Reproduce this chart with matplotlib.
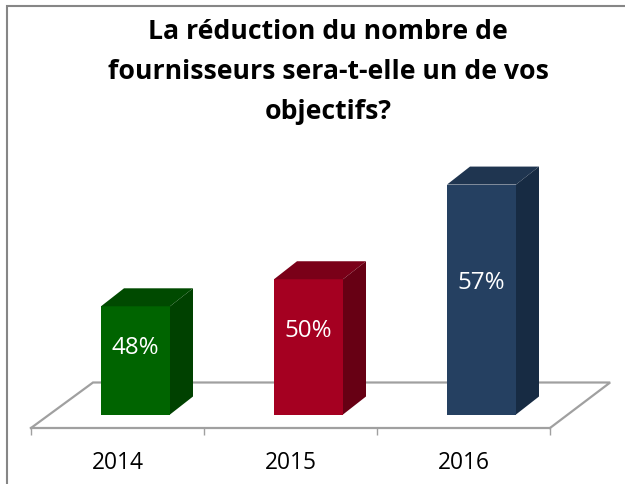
import matplotlib
matplotlib.use("Agg")
import matplotlib.pyplot as plt
from matplotlib.lines import Line2D
from matplotlib.patches import Polygon

years = ["2014", "2015", "2016"]
values = [48, 50, 57]
labels = ["48%", "50%", "57%"]
label_y = [45.0, 46.25, 49.8]
front = ["#006400", "#A50021", "#254061"]
top = ["#004A00", "#7A0018", "#1F3550"]
side = ["#004100", "#670014", "#172B43"]
title = "La réduction du nombre de\nfournisseurs sera-t-elle un de vos\nobjectifs?"

W, H = 625, 485
FONT = "Open Sans"
GREY = "#A0A0A0"
fig = plt.figure(figsize=(W / 100, H / 100), dpi=100, facecolor="white")

# axes: x 0..3 -> px 31..550; y 40..60 -> px 415.5..145
ax = fig.add_axes([31 / W, 1 - 415.5 / H, 519 / W, 270.5 / H])
ax.set_xlim(0, 3)
ax.set_ylim(40, 60)
ax.patch.set_alpha(0)
for s in ["top", "left", "right"]:
    ax.spines[s].set_visible(False)
ax.spines["bottom"].set_position(("outward", 13.5 * 0.72))
ax.spines["bottom"].set_color(GREY)
ax.spines["bottom"].set_linewidth(1.6)
ax.set_yticks([])
ax.set_xticks([0, 1, 2, 3])
ax.set_xticklabels([])
ax.set_xticks([0.5, 1.5, 2.5], labels=years, minor=True)
ax.tick_params(axis="x", which="major", length=5, width=1, color=GREY, direction="out")
ax.tick_params(axis="x", which="minor", length=0, pad=16, labelsize=16.4)
for t in ax.get_xticklabels(minor=True):
    t.set_fontfamily(FONT)
    t.set_color("black")

px_x, px_y = 3 / 519, 20 / 270.5   # data units per pixel
fx0, fx1 = 0, 3
fy = 40 - 13.5 * px_y
bx = 62 * px_x
by = 40 + 32 * px_y
ax.add_line(Line2D([fx1, fx1 + bx * 0.97, bx, fx0], [fy, by, by, fy], color=GREY, lw=1.6, clip_on=False, zorder=1, solid_joinstyle="miter"))

bw = 69 * px_x
off = 18 * px_x
dx, dy = 23 * px_x, 18 * px_y
ax.bar([i + 0.5 + off for i in range(3)], [v - 40 for v in values], bottom=40, width=bw,
       color=front, zorder=3, clip_on=False, edgecolor="none")
for i, v in enumerate(values):
    c = i + 0.5 + off
    l, r = c - bw / 2, c + bw / 2
    ax.add_patch(Polygon([(l, v), (r, v), (r + dx, v + dy), (l + dx, v + dy)], closed=True, fc=top[i], ec="none", zorder=3, clip_on=False))
    ax.add_patch(Polygon([(r, 40), (r, v), (r + dx, v + dy), (r + dx, 40 + dy)], closed=True, fc=side[i], ec="none", zorder=3, clip_on=False))
    ax.text(c, label_y[i], labels[i], color="white", ha="center", va="center", fontsize=17.4, family=FONT, zorder=4)

fig.text(328 / W, 1 - 72 / H, title, ha="center", va="center", fontsize=19.2, fontweight="bold",
         family=FONT, color="black", linespacing=1.68)

fig.add_artist(Line2D([7 / W, 7 / W, 1], [0, 1 - 7 / H, 1 - 7 / H], color="#868686", lw=1.5, solid_joinstyle="miter"))

fig.savefig("out.png", dpi=100, facecolor="white")
